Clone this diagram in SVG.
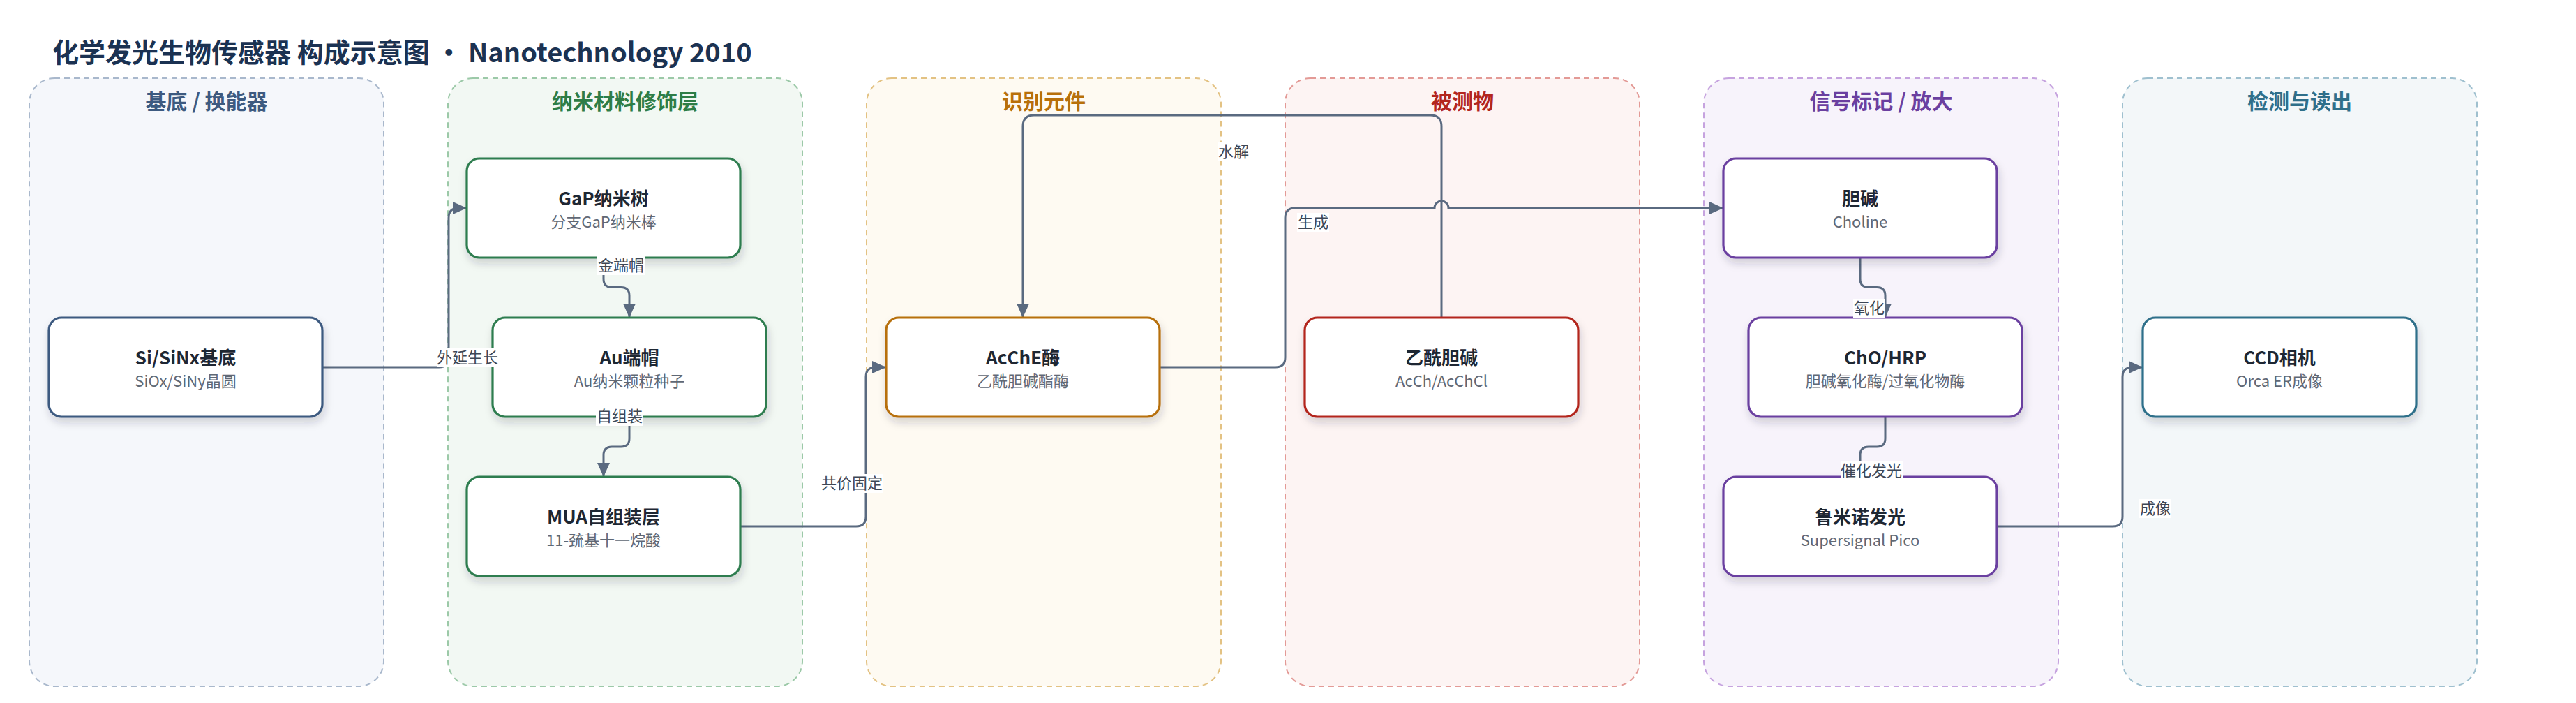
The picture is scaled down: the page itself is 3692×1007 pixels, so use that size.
<svg xmlns="http://www.w3.org/2000/svg" width="3692" height="1007" viewBox="0 0 3692 1007">
<style>
text{font-family:"Noto Sans CJK SC","Noto Sans",sans-serif}
.title{font-size:38px;font-weight:700;fill:#1b3252}
.ptitle{font-size:30px;font-weight:700;text-anchor:middle}
.panel{stroke-width:2;stroke-dasharray:8 6}
.node rect{fill:#ffffff;stroke-width:3.2;filter:url(#shadow)}
.nt{font-size:26px;font-weight:700;fill:#1e2733;text-anchor:middle}
.ns{font-size:22px;fill:#5f6875;text-anchor:middle}
.edge{fill:none;stroke:#5a6a80;stroke-width:3;marker-end:url(#arrow)}
.lbg{fill:#ffffff}
.lt{font-size:22px;fill:#3d4756;text-anchor:middle}
</style>
<defs>
<filter id="shadow" x="-10%" y="-15%" width="125%" height="145%">
<feDropShadow dx="2" dy="7" stdDeviation="6" flood-color="#1f2a3a" flood-opacity="0.18"/>
</filter>
<marker id="arrow" markerUnits="userSpaceOnUse" markerWidth="20" markerHeight="18" refX="20" refY="9" orient="auto">
<path d="M0,0 L20,9 L0,18 z" fill="#5a6a80"/>
</marker>
</defs>
<rect width="3692" height="1007" fill="#ffffff"/>
<text class="title" x="75" y="89">化学发光生物传感器 构成示意图 · Nanotechnology 2010</text>
<g id="panels">
<g id="panel-substrate"><rect class="panel" x="42" y="112" width="508" height="871" rx="36" fill="#f5f7fb" stroke="#a9b8cc"/><text class="ptitle" x="296" y="156" fill="#3d5a80">基底 / 换能器</text></g>
<g id="panel-nano"><rect class="panel" x="642" y="112" width="508" height="871" rx="36" fill="#f2f8f3" stroke="#9cc9a8"/><text class="ptitle" x="896" y="156" fill="#2e7d46">纳米材料修饰层</text></g>
<g id="panel-recog"><rect class="panel" x="1242" y="112" width="508" height="871" rx="36" fill="#fefaf2" stroke="#e3c283"/><text class="ptitle" x="1496" y="156" fill="#b8700a">识别元件</text></g>
<g id="panel-analyte"><rect class="panel" x="1842" y="112" width="508" height="871" rx="36" fill="#fdf4f3" stroke="#e39a96"/><text class="ptitle" x="2096" y="156" fill="#b3261e">被测物</text></g>
<g id="panel-signal"><rect class="panel" x="2442" y="112" width="508" height="871" rx="36" fill="#f7f3fb" stroke="#c6a3df"/><text class="ptitle" x="2696" y="156" fill="#6b3fa0">信号标记 / 放大</text></g>
<g id="panel-detect"><rect class="panel" x="3042" y="112" width="508" height="871" rx="36" fill="#f3f7f9" stroke="#9fc0cf"/><text class="ptitle" x="3296" y="156" fill="#2f6f8a">检测与读出</text></g>
</g>
<g id="connectors">
<path class="edge" d="M461,526 H629 Q643,526 643,512 V312 Q643,298 657,298 H669"/>
<path class="edge" d="M865,368 V399.5 Q865,411.5 877,411.5 H890 Q902,411.5 902,423.5 V455"/>
<path class="edge" d="M902,597 V628 Q902,640 890,640 H877 Q865,640 865,652 V683"/>
<path class="edge" d="M1061,754 H1227 Q1241,754 1241,740 V540 Q1241,526 1255,526 H1270"/>
<path class="edge" d="M1662,526 H1828 Q1842,526 1842,512 V312 Q1842,298 1856,298 H2056 A10,10 0 0 1 2076,298 H2470"/>
<path class="edge" d="M2066,455 V181 Q2066,165 2050,165 H1482 Q1466,165 1466,181 V455"/>
<path class="edge" d="M2666,368 V399.5 Q2666,411.5 2678,411.5 H2690 Q2702,411.5 2702,423.5 V455"/>
<path class="edge" d="M2702,597 V628 Q2702,640 2690,640 H2678 Q2666,640 2666,652 V683"/>
<path class="edge" d="M2862,754 H3028 Q3042,754 3042,740 V540 Q3042,526 3056,526 H3071"/>
</g>
<g id="nodes">
<g id="n-si" class="node"><rect x="70" y="455" width="392" height="142" rx="18" stroke="#3d5a80"/><text class="nt" x="266" y="522">Si/SiNx基底</text><text class="ns" x="266" y="554">SiOx/SiNy晶圆</text></g>
<g id="n-gap" class="node"><rect x="669" y="227" width="392" height="142" rx="18" stroke="#2e7d4f"/><text class="nt" x="865" y="294">GaP纳米树</text><text class="ns" x="865" y="326">分支GaP纳米棒</text></g>
<g id="n-au" class="node"><rect x="706" y="455" width="392" height="142" rx="18" stroke="#2e7d4f"/><text class="nt" x="902" y="522">Au端帽</text><text class="ns" x="902" y="554">Au纳米颗粒种子</text></g>
<g id="n-mua" class="node"><rect x="669" y="683" width="392" height="142" rx="18" stroke="#2e7d4f"/><text class="nt" x="865" y="750">MUA自组装层</text><text class="ns" x="865" y="782">11-巯基十一烷酸</text></g>
<g id="n-ache" class="node"><rect x="1270" y="455" width="392" height="142" rx="18" stroke="#b7700a"/><text class="nt" x="1466" y="522">AcChE酶</text><text class="ns" x="1466" y="554">乙酰胆碱酯酶</text></g>
<g id="n-acch" class="node"><rect x="1870" y="455" width="392" height="142" rx="18" stroke="#b3261e"/><text class="nt" x="2066" y="522">乙酰胆碱</text><text class="ns" x="2066" y="554">AcCh/AcChCl</text></g>
<g id="n-choline" class="node"><rect x="2470" y="227" width="392" height="142" rx="18" stroke="#6b3fa0"/><text class="nt" x="2666" y="294">胆碱</text><text class="ns" x="2666" y="326">Choline</text></g>
<g id="n-cho" class="node"><rect x="2506" y="455" width="392" height="142" rx="18" stroke="#6b3fa0"/><text class="nt" x="2702" y="522">ChO/HRP</text><text class="ns" x="2702" y="554">胆碱氧化酶/过氧化物酶</text></g>
<g id="n-luminol" class="node"><rect x="2470" y="683" width="392" height="142" rx="18" stroke="#6b3fa0"/><text class="nt" x="2666" y="750">鲁米诺发光</text><text class="ns" x="2666" y="782">Supersignal Pico</text></g>
<g id="n-ccd" class="node"><rect x="3071" y="455" width="392" height="142" rx="18" stroke="#2f6f8a"/><text class="nt" x="3267" y="522">CCD相机</text><text class="ns" x="3267" y="554">Orca ER成像</text></g>
</g>
<g id="edge-labels">
<rect class="lbg" x="626" y="499" width="89" height="27"/><text class="lt" x="670" y="520">外延生长</text>
<rect class="lbg" x="856" y="367" width="68" height="27"/><text class="lt" x="890" y="388">金端帽</text>
<rect class="lbg" x="854" y="583" width="68" height="27"/><text class="lt" x="888" y="604">自组装</text>
<rect class="lbg" x="1177" y="679" width="89" height="27"/><text class="lt" x="1221" y="700">共价固定</text>
<rect class="lbg" x="1745" y="204" width="46" height="27"/><text class="lt" x="1768" y="225">水解</text>
<rect class="lbg" x="1859" y="305" width="46" height="27"/><text class="lt" x="1882" y="326">生成</text>
<rect class="lbg" x="2656" y="428" width="46" height="27"/><text class="lt" x="2679" y="449">氧化</text>
<rect class="lbg" x="2638" y="661" width="89" height="27"/><text class="lt" x="2682" y="682">催化发光</text>
<rect class="lbg" x="3066" y="715" width="46" height="27"/><text class="lt" x="3089" y="736">成像</text>
</g>
</svg>
